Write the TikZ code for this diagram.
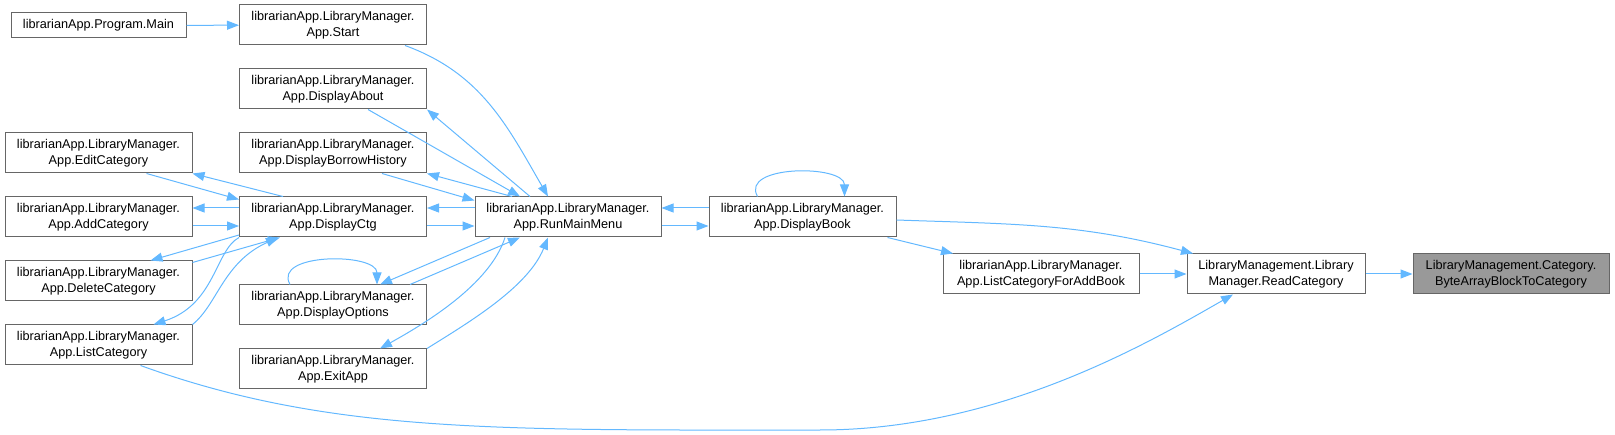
\documentclass[tikz,border=0pt]{standalone}
\usepackage{fontspec}
\setmainfont{Liberation Sans}
\usetikzlibrary{arrows.meta}
\definecolor{edgeblue}{HTML}{63B8FF}
\definecolor{boxgray}{HTML}{666666}
\definecolor{focusgray}{HTML}{999999}

\begin{document}
\begin{tikzpicture}[
    x=1pt, y=1pt,
    fn/.style={draw=boxgray, line width=1pt, fill=white,
               minimum width=187pt, minimum height=40pt,
               inner sep=0pt, align=center,
               font=\fontsize{12.7}{16}\selectfont},
    call/.style={->, draw=edgeblue, line width=1pt},
    >={Triangle[length=12pt,width=9pt]}
]
\useasboundingbox (0,0) rectangle (1615,434);

% --- FIRST COLUMN ---
\node[fn, minimum width=175pt, minimum height=25pt] (main) at (98.5,408.5) {librarianApp.Program.Main};
\node[fn] (editcat) at (98.5,281) {librarianApp.LibraryManager.\\App.EditCategory};
\node[fn] (addcat) at (98.5,217) {librarianApp.LibraryManager.\\App.AddCategory};
\node[fn] (delcat) at (98.5,153) {librarianApp.LibraryManager.\\App.DeleteCategory};
\node[fn] (listcat) at (98.5,89) {librarianApp.LibraryManager.\\App.ListCategory};

% --- SECOND COLUMN ---
\node[fn] (start) at (333,409) {librarianApp.LibraryManager.\\App.Start};
\node[fn] (about) at (333,345) {librarianApp.LibraryManager.\\App.DisplayAbout};
\node[fn] (borrow) at (333,281) {librarianApp.LibraryManager.\\App.DisplayBorrowHistory};
\node[fn] (ctg) at (333,217) {librarianApp.LibraryManager.\\App.DisplayCtg};
\node[fn] (opts) at (333,129) {librarianApp.LibraryManager.\\App.DisplayOptions};
\node[fn] (exit) at (333,65) {librarianApp.LibraryManager.\\App.ExitApp};

% --- MENU / BOOK ---
\node[fn, minimum width=186pt] (menu) at (568,217) {librarianApp.LibraryManager.\\App.RunMainMenu};
\node[fn] (book) at (802.5,217) {librarianApp.LibraryManager.\\App.DisplayBook};

% --- READ CATEGORY ---
\node[fn, minimum width=196pt] (addbook) at (1041,160) {librarianApp.LibraryManager.\\App.ListCategoryForAddBook};
\node[fn, minimum width=178pt] (readcat) at (1276,160) {LibraryManagement.Library\\Manager.ReadCategory};
\node[fn, minimum width=196pt, fill=focusgray] (tocat) at (1511,160) {LibraryManagement.Category.\\ByteArrayBlockToCategory};

% main and menu
\draw[call] (main) -- (start);
\draw[call] ([xshift=72pt]start.south) to[out=-20,in=120] ([xshift=-20pt]menu.north);
\draw[call] ([xshift=35pt]about.south) -- ([xshift=-48pt]menu.north);
\draw[call] ([xshift=-38pt]menu.north) -- (about.south east);
\draw[call] ([xshift=-56pt]menu.north) -- (borrow.south east);
\draw[call] ([xshift=49pt]borrow.south) -- ([yshift=-4pt]menu.north west);
\draw[call] ([yshift=9pt]menu.west) -- ([yshift=9pt]ctg.east);
\draw[call] ([yshift=-9pt]ctg.east) -- ([yshift=-9pt]menu.west);
\draw[call] ([xshift=-78pt]menu.south) -- ([xshift=47pt]opts.north);
\draw[call] ([xshift=77pt]opts.north) -- ([xshift=-48pt]menu.south);
\draw[call] ([xshift=-43pt]opts.north) .. controls +(-18,32) and +(0,32) .. ([xshift=44pt]opts.north);
\draw[call] ([xshift=-63pt]menu.south) .. controls +(-15,-47) and +(45,25) .. ([xshift=47pt]exit.north);
\draw[call] (exit.north east) .. controls +(40,25) and +(-20,-50) .. ([xshift=-20pt]menu.south);

% categories
\draw[call] ([xshift=-50pt]ctg.north) -- (editcat.south east);
\draw[call] ([xshift=48pt]editcat.south) -- ([yshift=-3pt]ctg.north west);
\draw[call] ([yshift=9pt]ctg.west) -- ([yshift=9pt]addcat.east);
\draw[call] ([yshift=-9pt]addcat.east) -- ([yshift=-9pt]ctg.west);
\draw[call] ([yshift=-18pt]ctg.west) -- ([xshift=52pt]delcat.north);
\draw[call] ([yshift=-2pt]delcat.north east) -- ([xshift=-53pt]ctg.south);
\draw[call] (ctg.south west) .. controls +(-24,-13) and +(62,20) .. ([xshift=55pt]listcat.north);
\draw[call] (listcat.north east) .. controls +(25,20) and +(-55,-25) .. ([xshift=-55pt]ctg.south);

% book
\draw[call] ([yshift=9pt]book.west) -- ([yshift=9pt]menu.east);
\draw[call] ([yshift=-9pt]menu.east) -- ([yshift=-9pt]book.west);
\draw[call] ([xshift=-45pt]book.north) .. controls +(-18,32) and +(0,32) .. ([xshift=42pt]book.north);
\draw[call] ([xshift=85pt]book.south) -- ([xshift=-88pt]addbook.north);
\draw[call] ([yshift=-3pt]book.east) to[out=-2,in=165] ([xshift=-83pt]readcat.north);

% read category
\draw[call] (addbook) -- (readcat);
\draw[call] (readcat) -- (tocat);
\draw[call] ([xshift=42pt]listcat.south) .. controls (330,0) and (500,4) .. (820,4)
    .. controls (1000,4) and (1150,92) .. ([xshift=-43pt]readcat.south);

\end{tikzpicture}
\end{document}
